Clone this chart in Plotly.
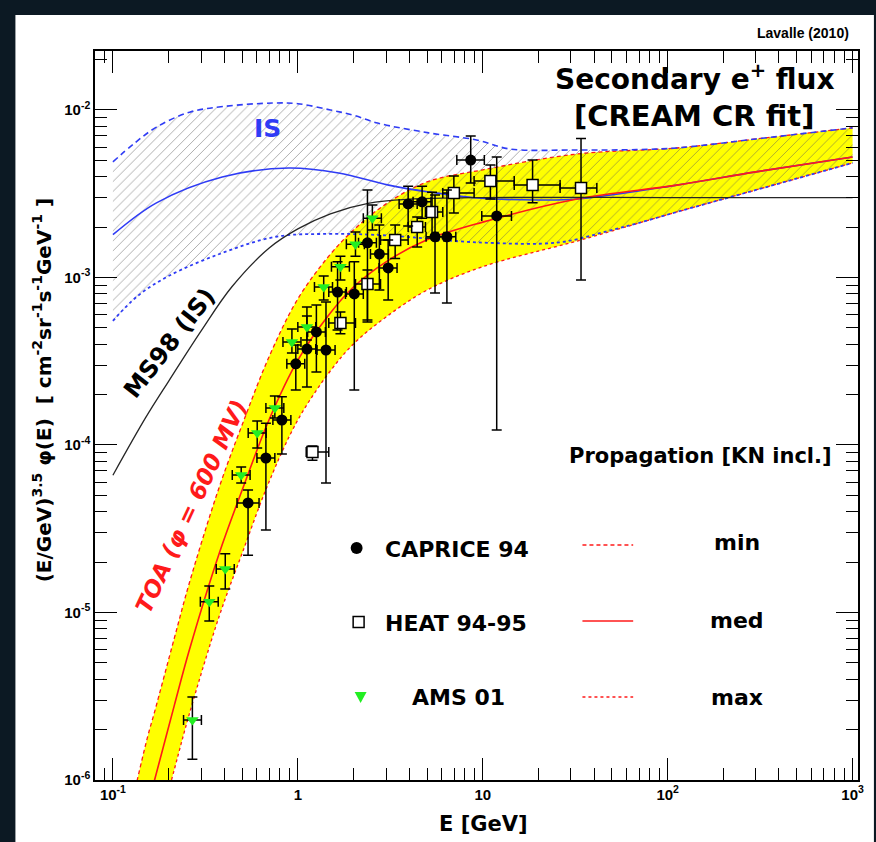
import numpy as np
import plotly.graph_objects as go

# ---------------- model curves (E in GeV, E^3.5 * flux) ----------------
# propagated TOA band (phi = 600 MV): min (dashed), med (solid), max (dotted)
E_toa = [0.12, 0.154, 0.168, 0.215, 0.259, 0.376, 0.5, 0.698, 1.0, 1.47, 2.0,
         3.0, 5.0, 10, 32.4, 112, 300, 1000]
toa_min = [5.61e-7, 1.81e-6, 2.55e-6, 7.05e-6, 1.50e-5, 5.61e-5, 1.32e-4, 3.35e-4,
           7.45e-4, 1.34e-3, 1.92e-3, 2.75e-3, 3.72e-3, 4.39e-3, 5.46e-3, 5.93e-3,
           6.71e-3, 7.82e-3]
toa_med = [2.20e-7, 7.09e-7, 1.0e-6, 2.80e-6, 5.97e-6, 2.26e-5, 5.38e-5, 1.41e-4,
           3.21e-4, 5.97e-4, 8.77e-4, 1.24e-3, 1.68e-3, 2.14e-3, 2.94e-3, 3.56e-3,
           4.27e-3, 5.24e-3]
toa_max = [9.1e-8, 2.94e-7, 4.15e-7, 1.16e-6, 2.48e-6, 9.53e-6, 2.26e-5, 6.01e-5,
           1.41e-4, 2.69e-4, 4.01e-4, 5.81e-4, 8.41e-4, 1.16e-3, 1.65e-3, 2.46e-3,
           3.33e-3, 4.83e-3]

# interstellar band
E_is_min = [0.1, 0.13, 0.172, 0.26, 0.4, 0.73, 1.0, 1.5, 2.0, 2.7, 5.1, 9.4, 14,
            32, 68, 112, 300, 1000]
is_min = [4.9e-3, 6.3e-3, 7.9e-3, 9.7e-3, 1.05e-2, 1.1e-2, 1.09e-2, 1.0e-2, 9.3e-3,
          8.35e-3, 7.3e-3, 6.6e-3, 5.85e-3, 5.77e-3, 5.8e-3, 5.93e-3, 6.71e-3, 7.82e-3]
E_is_med = [0.1, 0.172, 0.39, 0.89, 1.66, 3.1, 5.1, 9.4, 20, 32.4, 112, 300, 1000]
is_med = [1.8e-3, 2.79e-3, 3.98e-3, 4.5e-3, 4.2e-3, 3.56e-3, 3.24e-3, 2.98e-3,
          2.9e-3, 2.94e-3, 3.56e-3, 4.27e-3, 5.24e-3]
E_is_max = [0.1, 0.135, 0.2, 0.39, 0.76, 1.5, 3.1, 9.4, 26, 48, 68, 112, 300, 1000]
is_max = [5.5e-4, 7.7e-4, 1.02e-3, 1.4e-3, 1.75e-3, 1.82e-3, 1.78e-3, 1.62e-3,
          1.62e-3, 1.9e-3, 2.1e-3, 2.46e-3, 3.33e-3, 4.83e-3]

# MS98 interstellar prediction
E_ms98 = [0.1, 0.15, 0.2, 0.3, 0.44, 0.7, 1.0, 1.5, 2.4, 4, 10, 100, 1000]
ms98 = [6.6e-5, 1.45e-4, 2.4e-4, 4.8e-4, 8.8e-4, 1.5e-3, 1.95e-3, 2.4e-3, 2.77e-3,
        2.93e-3, 3.0e-3, 3.0e-3, 3.0e-3]

# ---------------- data ----------------
caprice_E = [0.538, 0.672, 0.82, 0.975, 1.12, 1.26, 1.42, 1.64, 2.02, 2.38, 2.76,
             3.08, 3.95, 4.70, 5.52, 6.40, 8.61, 11.9]
caprice_F = [4.51e-5, 8.36e-5, 1.41e-4, 3.05e-4, 3.74e-4, 4.73e-4, 3.69e-4, 8.18e-4,
             7.97e-4, 1.61e-3, 1.38e-3, 1.14e-3, 2.75e-3, 2.83e-3, 1.75e-3, 1.75e-3,
             5.02e-3, 2.33e-3]
caprice_F_hi = [5.38e-5, 1.35e-4, 1.94e-4, 3.95e-4, 6.67e-4, 6.86e-4, 7.14e-4, 1.24e-3,
                1.24e-3, 3.33e-3, 2.06e-3, 1.675e-3, 3.51e-3, 3.51e-3, 3.11e-3, 3.33e-3,
                7.0e-3, 5.24e-3]
caprice_F_lo = [2.2e-5, 3.11e-5, 8.83e-5, 2.13e-4, 2.22e-4, 2.73e-4, 5.93e-5, 4.86e-4,
                2.13e-4, 5.42e-4, 8.41e-4, 7.34e-4, 2.03e-3, 2.26e-3, 8.07e-4, 7.05e-4,
                3.66e-3, 1.23e-4]
caprice_E_lo = [0.469, 0.601, 0.733, 0.872, 1.0, 1.13, 1.27, 1.47, 1.81, 2.13, 2.47,
                2.75, 3.53, 4.2, 4.94, 5.72, 7.24, 9.88]
caprice_E_hi = [0.617, 0.751, 0.917, 1.09, 1.25, 1.41, 1.59, 1.83, 2.26, 2.66, 3.09,
                3.44, 4.42, 5.25, 6.17, 7.15, 10.2, 14.3]

heat_E = [1.2, 1.70, 2.38, 3.36, 4.42, 5.32, 6.98, 11.0, 18.6, 34.0]
heat_F = [9.08e-5, 5.35e-4, 9.14e-4, 1.675e-3, 2.0e-3, 2.46e-3, 3.19e-3, 3.76e-3,
          3.56e-3, 3.42e-3]
heat_F_hi = [9.87e-5, 6.22e-4, 1.11e-3, 2.06e-3, 2.3e-3, 3.23e-3, 4.04e-3, 4.7e-3,
             5.02e-3, 6.75e-3]
heat_F_lo = [8.12e-5, 4.61e-4, 5.57e-4, 1.3e-3, 1.52e-3, 1.72e-3, 2.43e-3, 2.94e-3,
             2.79e-3, 9.66e-4]
heat_E_lo = [1.11, 1.47, 2.05, 2.8, 3.95, 4.9, 6.08, 8.98, 14.8, 26.2]
heat_E_hi = [1.47, 2.05, 2.8, 3.95, 4.9, 6.08, 8.98, 14.8, 26.2, 41.4]

ams_E = [0.269, 0.332, 0.405, 0.494, 0.603, 0.751, 0.929, 1.12, 1.38, 1.70, 2.05, 2.53]
ams_F = [2.28e-6, 1.16e-5, 1.82e-5, 6.62e-5, 1.18e-4, 1.66e-4, 4.12e-4, 5.06e-4,
         8.77e-4, 1.16e-3, 1.58e-3, 2.26e-3]
ams_F_hi = [3.13e-6, 1.44e-5, 2.24e-5, 7.4e-5, 1.39e-4, 1.96e-4, 4.93e-4, 5.89e-4,
            1.02e-3, 1.34e-3, 1.87e-3, 2.71e-3]
ams_F_lo = [1.33e-6, 8.9e-6, 1.38e-5, 5.93e-5, 9.6e-5, 1.45e-4, 3.54e-4, 4.23e-4,
            7.34e-4, 9.66e-4, 1.34e-3, 1.92e-3]
ams_E_lo = [0.241, 0.297, 0.362, 0.442, 0.539, 0.672, 0.831, 1.0, 1.23, 1.52, 1.83, 2.26]
ams_E_hi = [0.301, 0.371, 0.453, 0.552, 0.674, 0.840, 1.04, 1.25, 1.54, 1.90, 2.29, 2.83]

x_tickvals = [0.1, 1, 10, 100, 1000]
x_ticktext = ["10<sup>-1</sup>", "1", "10", "10<sup>2</sup>", "10<sup>3</sup>"]
y_tickvals = [1e-6, 1e-5, 1e-4, 1e-3, 1e-2]
y_ticktext = ["10<sup>-6</sup>", "10<sup>-5</sup>", "10<sup>-4</sup>", "10<sup>-3</sup>", "10<sup>-2</sup>"]

# ---------------- layout geometry ----------------
W, H = 876, 842
ML, MR, MT, MB = 95, 14, 51, 62
PW, PH = W - ML - MR, H - MT - MB
FONT = "Liberation Sans, Arial, Helvetica, sans-serif"
WIDE = "DejaVu Sans, Verdana, sans-serif"
RED = "#ff1a1a"
BLUE = "#2f3cf5"


def fx(px):
    return (px - ML) / PW


def fy(py):
    return (H - MB - py) / PH


fig = go.Figure()

# TOA band
fig.add_trace(go.Scatter(x=E_toa, y=toa_max, mode="lines",
                         line=dict(color=RED, width=1.3, dash="dot", shape="spline"),
                         hoverinfo="skip", showlegend=False))
fig.add_trace(go.Scatter(x=E_toa, y=toa_min, mode="lines",
                         line=dict(color=RED, width=1.3, dash="4px,3px", shape="spline"),
                         fill="tonexty", fillcolor="#ffff00",
                         hoverinfo="skip", showlegend=False))

# IS band (hatched)
fig.add_trace(go.Scatter(x=E_is_max, y=is_max, mode="lines",
                         line=dict(color=BLUE, width=1.8, dash="dot", shape="spline"),
                         hoverinfo="skip", showlegend=False))
fig.add_trace(go.Scatter(x=E_is_min, y=is_min, mode="lines",
                         line=dict(color=BLUE, width=1.6, dash="6px,4px", shape="spline"),
                         fill="tonexty", fillcolor="rgba(0,0,0,0)",
                         fillpattern=dict(shape="/", fgcolor="#5a5a5a",
                                          bgcolor="rgba(0,0,0,0)", size=7,
                                          solidity=0.14, fillmode="overlay"),
                         hoverinfo="skip", showlegend=False))

# medians and MS98
fig.add_trace(go.Scatter(x=E_is_med, y=is_med, mode="lines",
                         line=dict(color=BLUE, width=1.6, shape="spline"),
                         hoverinfo="skip", showlegend=False))
fig.add_trace(go.Scatter(x=E_toa, y=toa_med, mode="lines",
                         line=dict(color=RED, width=1.6, shape="spline"),
                         hoverinfo="skip", showlegend=False))
fig.add_trace(go.Scatter(x=E_ms98, y=ms98, mode="lines",
                         line=dict(color="#262626", width=1.3, shape="spline"),
                         hoverinfo="skip", showlegend=False))


def add_data(E, F, Fhi, Flo, Elo, Ehi, marker):
    E, F = np.array(E), np.array(F)
    fig.add_trace(go.Scatter(
        x=E, y=F, mode="markers", marker=marker, showlegend=False,
        error_y=dict(type="data", symmetric=False, array=np.array(Fhi) - F,
                     arrayminus=F - np.array(Flo), color="black", thickness=1.5, width=5),
        error_x=dict(type="data", symmetric=False, array=np.array(Ehi) - E,
                     arrayminus=E - np.array(Elo), color="black", thickness=1.5, width=5),
    ))


add_data(heat_E, heat_F, heat_F_hi, heat_F_lo, heat_E_lo, heat_E_hi,
         dict(symbol="square", size=11, color="white", line=dict(color="black", width=1.5)))
add_data(caprice_E, caprice_F, caprice_F_hi, caprice_F_lo, caprice_E_lo, caprice_E_hi,
         dict(symbol="circle", size=11, color="black"))
add_data(ams_E, ams_F, ams_F_hi, ams_F_lo, ams_E_lo, ams_E_hi,
         dict(symbol="triangle-down", size=11, color="#22ee22", line=dict(width=0)))

# ---------------- texts ----------------
def text(px, py, s, size, color="black", angle=0, italic=False, family=WIDE, yanchor="middle"):
    fig.add_annotation(x=fx(px), y=fy(py), xref="paper", yref="paper", text=s,
                       showarrow=False, textangle=angle, xanchor="center", yanchor=yanchor,
                       borderpad=0,
                       font=dict(family=family, size=size, color=color, weight="bold",
                                 style="italic" if italic else "normal"))


text(807, 33, "Lavalle (2010)", 14, family=FONT)
text(698, 97, "Secondary e<sup>+</sup> flux", 28, yanchor="bottom")
text(697, 98, "[CREAM CR fit]", 29, yanchor="top")
text(268, 128, "IS", 25, BLUE)
text(170, 343, "MS98 (IS)", 24, angle=-52)
text(192, 506, "TOA (φ = 600 MV)", 23, RED, angle=-65, italic=True)
text(704, 456, "Propagation [KN incl.]", 21)
text(459, 549, "CAPRICE 94", 22)
text(458, 623, "HEAT 94-95", 22)
text(460, 697, "AMS 01", 22)
text(740, 542, "min", 22)
text(740, 620, "med", 22)
text(740, 697, "max", 22)
text(486, 824, "E [GeV]", 21)
text(42, 390, "(E/GeV)<sup>3.5</sup> φ(E)  [ cm<sup>-2</sup>sr<sup>-1</sup>s<sup>-1</sup>GeV<sup>-1</sup> ]",
     20, angle=-90)

# ---------------- legend glyphs and panel ----------------
shapes = [
    dict(type="rect", xref="paper", yref="paper", x0=fx(15), x1=fx(W + 2), y0=fy(H + 2), y1=fy(15),
         fillcolor="white", line=dict(width=0), layer="below"),
    dict(type="circle", xref="paper", yref="paper", x0=fx(352), x1=fx(364),
         y0=fy(554), y1=fy(542), fillcolor="black", line=dict(width=0)),
    dict(type="rect", xref="paper", yref="paper", x0=fx(354.5), x1=fx(365.5),
         y0=fy(627.5), y1=fy(616.5), fillcolor="white", line=dict(color="black", width=1.5)),
    dict(type="path", xref="paper", yref="paper",
         path=f"M {fx(356)},{fy(692)} L {fx(368)},{fy(692)} L {fx(362)},{fy(703)} Z",
         fillcolor="#22ee22", line=dict(width=0)),
    dict(type="line", xref="paper", yref="paper", x0=fx(585), x1=fx(636), y0=fy(545), y1=fy(545),
         line=dict(color=RED, width=1.3, dash="4px,3px")),
    dict(type="line", xref="paper", yref="paper", x0=fx(585), x1=fx(636), y0=fy(621), y1=fy(621),
         line=dict(color=RED, width=1.6)),
    dict(type="line", xref="paper", yref="paper", x0=fx(585), x1=fx(636), y0=fy(697), y1=fy(697),
         line=dict(color=RED, width=1.3, dash="dot")),
]

axis_common = dict(type="log", showgrid=False, zeroline=False, showline=True,
                   linecolor="black", linewidth=1.5, mirror="allticks",
                   ticks="inside", ticklen=22, tickwidth=1.2, tickcolor="black",
                   tickfont=dict(family=FONT, size=15, color="black", weight="bold"),
                   minor=dict(ticks="inside", ticklen=12, tickwidth=1.2, tickcolor="black",
                              dtick="D1", showgrid=False))

fig.update_layout(
    width=W, height=H, autosize=False,
    margin=dict(l=ML, r=MR, t=MT, b=MB, pad=0),
    paper_bgcolor="#0c1923", plot_bgcolor="white",
    showlegend=False, shapes=shapes,
    xaxis=dict(axis_common, range=[np.log10(0.08), np.log10(1070)],
               tickvals=x_tickvals, ticktext=x_ticktext),
    yaxis=dict(axis_common, range=[-6, -1.648],
               tickvals=y_tickvals, ticktext=y_ticktext),
)

fig.write_html("out.html")
